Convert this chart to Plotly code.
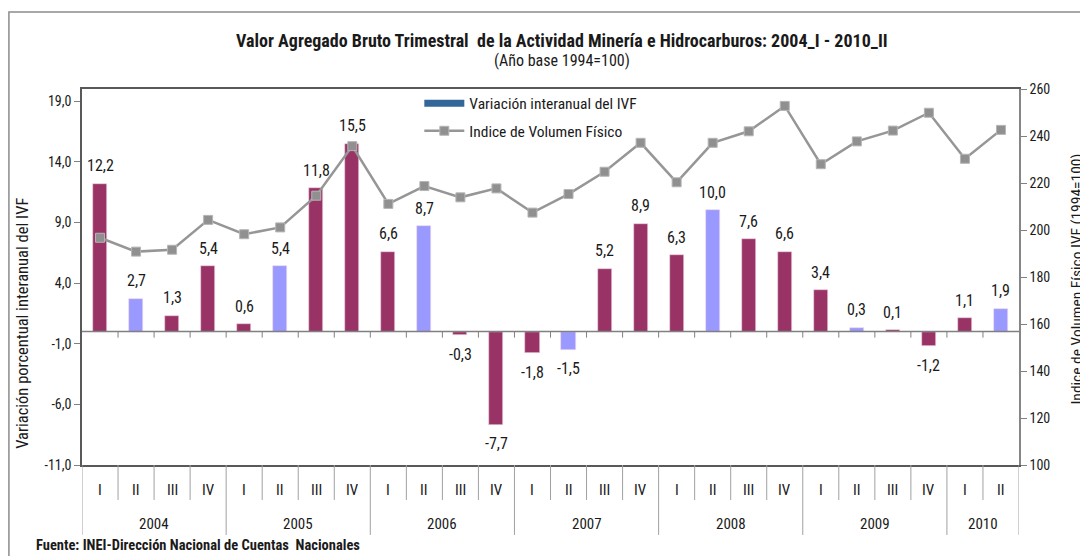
import plotly.graph_objects as go

# Datos: variacion interanual (%) e indice de volumen fisico (1994=100)
trimestres = ["I", "II", "III", "IV", "I", "II", "III", "IV", "I", "II", "III", "IV",
              "I", "II", "III", "IV", "I", "II", "III", "IV", "I", "II", "III", "IV",
              "I", "II"]
anios = ["2004", "2004", "2004", "2004", "2005", "2005", "2005", "2005",
         "2006", "2006", "2006", "2006", "2007", "2007", "2007", "2007",
         "2008", "2008", "2008", "2008", "2009", "2009", "2009", "2009",
         "2010", "2010"]
variacion = [12.2, 2.7, 1.3, 5.4, 0.6, 5.4, 11.8, 15.5, 6.6, 8.7, -0.3, -7.7,
             -1.8, -1.5, 5.2, 8.9, 6.3, 10.0, 7.6, 6.6, 3.4, 0.3, 0.1, -1.2,
             1.1, 1.9]
ivf = [196.7, 190.8, 191.6, 204.3, 198.2, 201.1, 214.6, 235.7, 211.1, 218.7,
       213.9, 217.7, 207.4, 215.3, 224.8, 237.1, 220.3, 237.1, 242.0, 252.8,
       228.0, 237.7, 242.3, 249.9, 230.3, 242.6]
ticks_izq = [19, 14, 9, 4, -1, -6, -11]
ticks_der = [100, 120, 140, 160, 180, 200, 220, 240, 260]

FONT = "Roboto Condensed, Liberation Sans Narrow, Arial Narrow, sans-serif"
GRANATE = "#993366"
LILA = "#9999FF"
GRIS = "#969696"
TXT = "#1a1a1a"

def coma(v):
    return f"{v:.1f}".replace(".", ",")

x = list(range(len(variacion)))
n = len(x)
colores = [LILA if t == "II" else GRANATE for t in trimestres]

fig = go.Figure()

fig.add_trace(go.Bar(
    x=x, y=variacion, width=0.39,
    marker=dict(color=colores, line=dict(color="#f2d9e6", width=0.6)),
    showlegend=False, hoverinfo="skip",
))

# entrada de leyenda para las barras (rectangulo azul delgado)
fig.add_trace(go.Scatter(
    x=[None], y=[None], mode="lines", name="Variación interanual del IVF",
    line=dict(color="#336699", width=7), legend="legend",
))

fig.add_trace(go.Scatter(
    x=x, y=ivf, yaxis="y2", mode="lines+markers", name="Indice de Volumen Físico",
    line=dict(color=GRIS, width=2.5),
    marker=dict(symbol="square", size=9, color="#909090", line=dict(color="#b5b5b5", width=1)),
    legend="legend2",
))

annotations = []
# etiquetas de datos
for i, v in enumerate(variacion):
    annotations.append(dict(
        x=i, y=v, xref="x", yref="y", text=coma(v), showarrow=False,
        xanchor="center", yanchor="middle",
        yshift=18 if v >= 0 else -19, font=dict(family=FONT, size=16, color=TXT),
    ))

# etiquetas del eje de categorias (trimestre y anio)
for i, t in enumerate(trimestres):
    annotations.append(dict(
        x=i, y=-0.0665, xref="x", yref="paper", text=t, showarrow=False,
        xanchor="center", yanchor="middle",
        font=dict(family=FONT, size=15, color=TXT),
    ))
for a in dict.fromkeys(anios):
    idx = [i for i, b in enumerate(anios) if b == a]
    annotations.append(dict(
        x=(idx[0] + idx[-1]) / 2, y=-0.157, xref="x", yref="paper", text=a,
        showarrow=False, xanchor="center", yanchor="middle",
        font=dict(family=FONT, size=15, color=TXT),
    ))

annotations += [
    dict(x=0.512, y=1.130, xref="paper", yref="paper", xanchor="center", yanchor="middle",
         text="<b>Valor Agregado Bruto Trimestral  de la Actividad Minería e Hidrocarburos: 2004_I - 2010_II</b>",
         showarrow=False, font=dict(family=FONT, size=18, color=TXT)),
    dict(x=0.512, y=1.077, xref="paper", yref="paper", xanchor="center", yanchor="middle",
         text="(Año base 1994=100)",
         showarrow=False, font=dict(family=FONT, size=16, color=TXT)),
    dict(x=-0.0512, y=-0.213, xref="paper", yref="paper", xanchor="left", yanchor="middle",
         text="<b>Fuente: INEI-Dirección Nacional de Cuentas  Nacionales</b>",
         showarrow=False, font=dict(family=FONT, size=14.5, color=TXT)),
    dict(x=-0.063, y=0.378, xref="paper", yref="paper", textangle=-90,
         xanchor="center", yanchor="middle",
         text="Variación porcentual interanual del IVF",
         showarrow=False, font=dict(family=FONT, size=16.5, color=TXT)),
    dict(x=1.0615, y=0.495, xref="paper", yref="paper", textangle=-90,
         xanchor="center", yanchor="middle",
         text="Indice de Volumen Físico IVF (1994=100)",
         showarrow=False, font=dict(family=FONT, size=15.5, color=TXT)),
]

shapes = []
# marcas del eje en cero
for i in range(n - 1):
    b = i + 0.5
    shapes.append(dict(type="line", xref="x", yref="y", x0=b, x1=b, y0=0, y1=-0.5,
                       line=dict(color="#808080", width=1)))
# separadores de trimestres y de anios
cambios = [-0.5] + [i + 0.5 for i in range(n - 1) if anios[i] != anios[i + 1]] + [n - 0.5]
for i in range(n - 1):
    b = i + 0.5
    if b in cambios:
        continue
    shapes.append(dict(type="line", xref="x", yref="paper", x0=b, x1=b, y0=0, y1=-0.093,
                       line=dict(color="#a0a0a0", width=1)))
for b in cambios:
    shapes.append(dict(type="line", xref="x", yref="paper", x0=b, x1=b, y0=0, y1=-0.186,
                       line=dict(color="#a0a0a0", width=1)))
# linea en cero
shapes.append(dict(type="line", xref="paper", yref="y", x0=0, x1=1, y0=0, y1=0,
                   line=dict(color="#808080", width=1.5)))
# marco exterior
shapes.append(dict(type="rect", xref="paper", yref="paper", x0=-0.078, x1=1.09,
                   y0=-0.3, y1=1.205, line=dict(color="#8c8c8c", width=1.5)))

fig.update_layout(
    # la pagina tiene 8px de margen, por eso 1080x548
    width=1080, height=548,
    margin=dict(l=74, r=69, t=81, b=91),
    paper_bgcolor="white", plot_bgcolor="white",
    font=dict(family=FONT, size=14, color=TXT),
    bargap=0,
    xaxis=dict(range=[-0.5, n - 0.5], showticklabels=False, ticks="", showgrid=False,
               zeroline=False, showline=True, mirror=True, linecolor="#595959", linewidth=1.5),
    yaxis=dict(range=[-11, 20], tickvals=ticks_izq, ticktext=[coma(v) for v in ticks_izq],
               showgrid=False, zeroline=False, showline=True, linecolor="#595959",
               linewidth=1.5, ticks="outside", ticklen=6, tickcolor="#808080",
               tickfont=dict(size=14)),
    yaxis2=dict(range=[100, 260], tickvals=ticks_der, overlaying="y", side="right",
                showgrid=False, zeroline=False, showline=True, linecolor="#868686",
                linewidth=1.5, ticks="outside", ticklen=6, tickcolor="#808080",
                tickfont=dict(size=14)),
    legend=dict(x=0.36, y=1.006, xanchor="left", yanchor="top", bgcolor="rgba(0,0,0,0)",
                font=dict(family=FONT, size=15.5), itemwidth=40),
    legend2=dict(x=0.36, y=0.933, xanchor="left", yanchor="top", bgcolor="rgba(0,0,0,0)",
                 font=dict(family=FONT, size=15.5), itemwidth=40),
    annotations=annotations,
    shapes=shapes,
)

fig.write_html("out.html")
